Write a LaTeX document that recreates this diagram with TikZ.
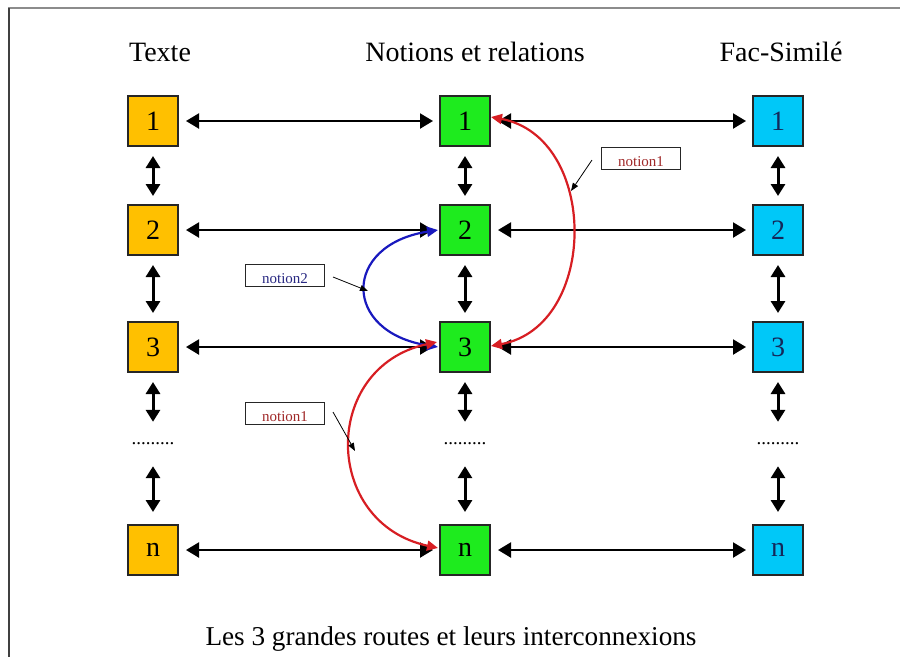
\documentclass[tikz,border=0pt]{standalone}
\usepackage{fontspec}
\setmainfont{Liberation Serif}
\usetikzlibrary{arrows.meta}
\definecolor{boxorange}{RGB}{255,192,0}
\definecolor{boxgreen}{RGB}{30,235,30}
\definecolor{boxcyan}{RGB}{0,200,248}
\definecolor{numnavy}{RGB}{20,40,90}
\definecolor{arcred}{RGB}{215,30,35}
\definecolor{arcblue}{RGB}{25,25,190}
\definecolor{labred}{RGB}{160,40,40}
\definecolor{labblue}{RGB}{40,40,130}
\tikzset{
  numbox/.style={draw=black!85, line width=2pt, minimum width=50pt, minimum height=50pt, inner sep=0pt, font=\fontsize{28}{32}\selectfont},
  obox/.style={numbox, fill=boxorange},
  gbox/.style={numbox, fill=boxgreen},
  cbox/.style={numbox, fill=boxcyan, text=numnavy},
  dotrow/.style={minimum height=24pt, inner sep=0pt, font=\fontsize{19}{20}\selectfont},
  title/.style={anchor=base, font=\fontsize{28}{32}\selectfont},
  captionstyle/.style={anchor=base, font=\fontsize{27.2}{32}\selectfont},
  harrow/.style={line width=2.2pt, {Triangle[length=13pt,width=15pt]}-{Triangle[length=13pt,width=15pt]}, shorten <=7pt, shorten >=6pt},
  varrow/.style={line width=3pt, {Triangle[length=12pt,width=14pt]}-{Triangle[length=12pt,width=14pt]}, shorten <=9pt, shorten >=8pt},
  labbox/.style={draw=black!85, line width=1pt, fill=white, minimum width=79pt, minimum height=22pt, inner sep=0pt, font=\fontsize{15}{17}\selectfont},
  pointer/.style={line width=0.8pt, -{Triangle[length=8pt,width=6pt]}},
  redarc/.style={arcred, line width=2.2pt, {Triangle[length=11pt,width=10pt]}-{Triangle[length=11pt,width=10pt]}},
  bluearc/.style={arcblue, line width=2.2pt, {Triangle[length=11pt,width=10pt]}-{Triangle[length=11pt,width=10pt]}}
}
\newcommand{\lowtext}[1]{\smash{\raisebox{-8pt}{#1}}}
\begin{document}
\begin{tikzpicture}[x=1pt,y=-1pt]
\useasboundingbox (0,0) rectangle (900,657);
% frame
\draw[black!45, line width=1.2pt] (8,8) -- (900,8);
\draw[black!75, line width=1.2pt] (9,8) -- (9,657);

% titles
\node[title] (tt) at (160,61) {Texte};
\node[title] (tn) at (475,61) {Notions et relations};
\node[title] (tf) at (781,61) {Fac-Similé};

% boxes
\foreach \r/\y in {1/121, 2/230, 3/347, n/550} {
  \node[obox] (o\r) at (153,\y) {\r};
  \node[gbox] (g\r) at (465,\y) {\r};
  \node[cbox] (c\r) at (778,\y) {\r};
}
% dot rows
\node[dotrow] (od) at (153,444) {.........};
\node[dotrow] (gd) at (465,444) {.........};
\node[dotrow] (cd) at (778,444) {.........};

% horizontal arrows
\foreach \r in {1,2,3,n} {
  \draw[harrow] (o\r) -- (g\r);
  \draw[harrow] (g\r) -- (c\r);
}
% vertical arrows
\foreach \c in {o,g,c} {
  \draw[varrow] (\c1) -- (\c2);
  \draw[varrow] (\c2) -- (\c3);
  \draw[varrow, shorten >=10pt] (\c3) -- (\c d);
  \draw[varrow, shorten <=10pt, shorten >=12pt] (\c d) -- (\c n);
}

% arcs
\draw[redarc] ([yshift=4pt]g1.east) .. controls +(108,20) and +(108,-20) .. ([yshift=1pt]g3.east);
\draw[bluearc] ([xshift=-1pt]g2.west) .. controls +(-96,15) and +(-96,-15) .. ([xshift=-1pt]g3.west);
\draw[redarc] ([yshift=5pt, xshift=-2pt]g3.west) .. controls +(-116,25) and +(-116,-25) .. ([yshift=2pt, xshift=-1pt]gn.west);

% labels
\node[labbox, text=labred] (l1) at (641,158) {\lowtext{notion1}};
\node[labbox, text=labblue] (l2) at (285,275) {\lowtext{notion2}};
\node[labbox, text=labred] (l3) at (285,413) {\lowtext{notion1}};

\coordinate (p1s) at (592,160);
\coordinate (p1e) at (571,191);
\coordinate (p2s) at (333,277);
\coordinate (p2e) at (368,291);
\coordinate (p3s) at (333,412);
\coordinate (p3e) at (355,451);
\draw[pointer] (p1s) -- (p1e);
\draw[pointer] (p2s) -- (p2e);
\draw[pointer] (p3s) -- (p3e);

% caption
\node[captionstyle] (cap) at (451,645) {Les 3 grandes routes et leurs interconnexions};
\end{tikzpicture}
\end{document}
